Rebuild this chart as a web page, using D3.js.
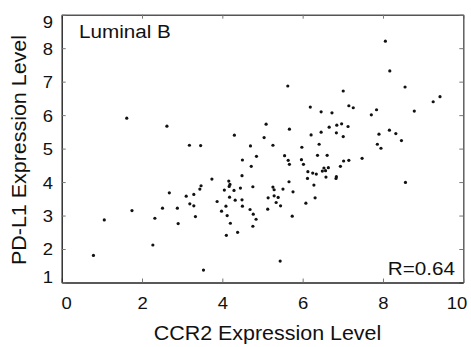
<!DOCTYPE html>
<html>
<head>
<meta charset="utf-8">
<script src="https://cdn.jsdelivr.net/npm/d3@7"></script>
<style>
  body { margin: 0; background: #fff; }
  text { font-family: "Liberation Sans", Arial, sans-serif; fill: #111; }
</style>
</head>
<body>
<svg id="chart" width="471" height="347"></svg>
<script>
// data
var ccr2 = [1.62, 2.62, 3.18, 2.68, 3.10, 3.29, 3.44, 3.47, 1.75, 2.51, 2.88, 3.19, 3.29, 1.06, 2.32, 2.90, 3.33, 2.27, 0.79,
  5.09, 5.67, 4.30, 5.04, 3.46, 4.70, 5.26, 4.85, 4.50, 5.55, 5.64, 5.67, 4.72, 4.49, 3.74, 4.16, 4.19, 4.17, 4.05, 4.29,
  4.45, 4.76, 5.26, 5.29, 5.51, 5.66, 4.18, 4.32, 4.49, 5.14, 5.29, 5.39, 5.34, 5.45, 5.13, 3.87, 4.09, 4.50, 3.98, 4.12,
  4.69, 4.77, 4.84, 4.20, 4.76, 4.38, 4.10, 5.44, 3.53, 6.19, 7.15, 7.26, 6.46, 6.73, 7.71, 7.84, 6.66, 6.85, 6.97, 7.13,
  6.21, 6.46, 6.84, 7.01, 7.90, 6.41, 7.86, 5.98, 5.97, 6.02, 6.37, 6.61, 6.13, 6.25, 6.34, 6.49, 6.53, 6.57, 6.64, 6.12,
  6.58, 6.84, 6.83, 6.94, 7.02, 7.15, 7.48, 6.28, 5.76, 6.31, 6.08, 5.74, 8.06, 8.17, 8.55, 9.25, 9.42, 8.78, 8.16, 8.32,
  8.46, 7.95, 8.56, 5.63, 7.01];
var pdl1 = [5.91, 5.67, 5.10, 3.68, 3.58, 3.63, 3.79, 3.89, 3.15, 3.22, 3.22, 3.35, 3.29, 2.87, 2.92, 2.76, 2.97, 2.12, 1.81,
  5.73, 5.58, 5.40, 5.33, 5.09, 5.08, 5.10, 4.77, 4.66, 4.79, 4.65, 4.53, 4.47, 4.19, 4.09, 4.03, 3.93, 3.87, 3.76, 3.75,
  3.82, 3.86, 3.85, 3.77, 3.79, 4.01, 3.55, 3.46, 3.47, 3.53, 3.59, 3.54, 3.39, 3.29, 3.19, 3.42, 3.28, 3.28, 3.13, 3.00,
  3.18, 3.04, 2.89, 2.77, 2.68, 2.50, 2.41, 1.64, 1.37, 6.24, 6.28, 6.22, 6.10, 6.07, 6.01, 6.16, 5.64, 5.70, 5.74, 5.66,
  5.41, 5.49, 5.47, 5.36, 5.43, 5.13, 5.13, 5.04, 4.67, 4.53, 4.80, 4.80, 4.31, 4.27, 4.24, 4.33, 4.42, 4.34, 4.43, 4.11,
  4.15, 4.16, 4.11, 4.47, 4.63, 4.65, 4.71, 3.91, 3.71, 3.53, 3.37, 2.98, 8.21, 7.32, 6.84, 6.40, 6.55, 6.12, 5.55, 5.45,
  5.24, 5.01, 3.99, 6.87, 6.72];
var xTicks = [0, 2, 4, 6, 8, 10];
var yTicks = [1, 2, 3, 4, 5, 6, 7, 8, 9];
var groupLabel = "Luminal B";
var rLabel = "R=0.64";
var xTitle = "CCR2 Expression Level";
var yTitle = "PD-L1 Expression Level";

// layout (window.top is reserved, so prefixed names)
var plotLeft = 61.7, plotTop = 14.7, plotRight = 463.3, plotBottom = 282.5;
var stretch = "scale(1.1,1)"; // reference text is a little wide

var svg = d3.select("#chart");

var x = d3.scaleLinear().domain([0, 10]).range([plotLeft, plotRight]);
var y = d3.scaleLinear().domain([1, 9]).range([plotBottom, plotTop]);

// points
svg.append("g")
  .selectAll("circle")
  .data(ccr2)
  .join("circle")
  .attr("cx", (d, i) => x(d))
  .attr("cy", (d, i) => y(pdl1[i]))
  .attr("r", 1.6)
  .attr("fill", "#111");

// top and right frame (gray, ticks only)
var topAxis = svg.append("g")
  .attr("transform", "translate(0," + plotTop + ")")
  .call(d3.axisTop(x).tickValues(xTicks).tickSizeInner(-4).tickSizeOuter(0).tickFormat(""));
var rightAxis = svg.append("g")
  .attr("transform", "translate(" + plotRight + ",0)")
  .call(d3.axisRight(y).tickValues(yTicks).tickSizeInner(-4).tickSizeOuter(0).tickFormat(""));
[topAxis, rightAxis].forEach(function (g) {
  g.select(".domain").attr("stroke", "#555").attr("stroke-width", 1.4);
  g.selectAll(".tick line").attr("stroke", "#777");
});

// bottom axis
var xAxis = svg.append("g")
  .attr("transform", "translate(0," + plotBottom + ")")
  .call(d3.axisBottom(x).tickValues(xTicks).tickSizeInner(-4).tickSizeOuter(0));
xAxis.select(".domain").attr("stroke", "#222").attr("stroke-width", 1.4);
xAxis.selectAll(".tick line").attr("stroke", "#777");
xAxis.selectAll(".tick text")
  .attr("font-size", 16.5)
  .attr("font-family", "Liberation Sans, Arial, sans-serif")
  .attr("fill", "#111")
  .attr("y", 26.8)
  .attr("dy", 0)
  .attr("dx", d => d === 0 ? 4 : d === 10 ? -6 : 0)
  .attr("transform", "scale(1.12,1)");

// left axis
var yAxis = svg.append("g")
  .attr("transform", "translate(" + plotLeft + ",0)")
  .call(d3.axisLeft(y).tickValues(yTicks).tickSizeInner(-4).tickSizeOuter(0));
yAxis.select(".domain").attr("stroke", "#222").attr("stroke-width", 1.4);
yAxis.selectAll(".tick line").attr("stroke", "#777");
yAxis.selectAll(".tick text")
  .attr("font-size", 16.5)
  .attr("font-family", "Liberation Sans, Arial, sans-serif")
  .attr("fill", "#111")
  .attr("x", -7.8)
  .attr("dy", "0.36em")
  .attr("y", d => d === 9 ? 6.5 : d === 1 ? -6 : 0)
  .attr("transform", "scale(1.12,1)");

// titles
svg.append("text")
  .attr("transform", "translate(267.5,340) " + stretch)
  .attr("text-anchor", "middle")
  .attr("font-size", 19.5)
  .text(xTitle);

svg.append("text")
  .attr("transform", "translate(26,150) rotate(-90) " + stretch)
  .attr("text-anchor", "middle")
  .attr("font-size", 19.5)
  .text(yTitle);

// in-plot labels
svg.append("text")
  .attr("transform", "translate(79,38.3) " + stretch)
  .attr("font-size", 18.8)
  .text(groupLabel);

svg.append("text")
  .attr("transform", "translate(455,275) " + stretch)
  .attr("text-anchor", "end")
  .attr("font-size", 18.8)
  .text(rLabel);
</script>
</body>
</html>
